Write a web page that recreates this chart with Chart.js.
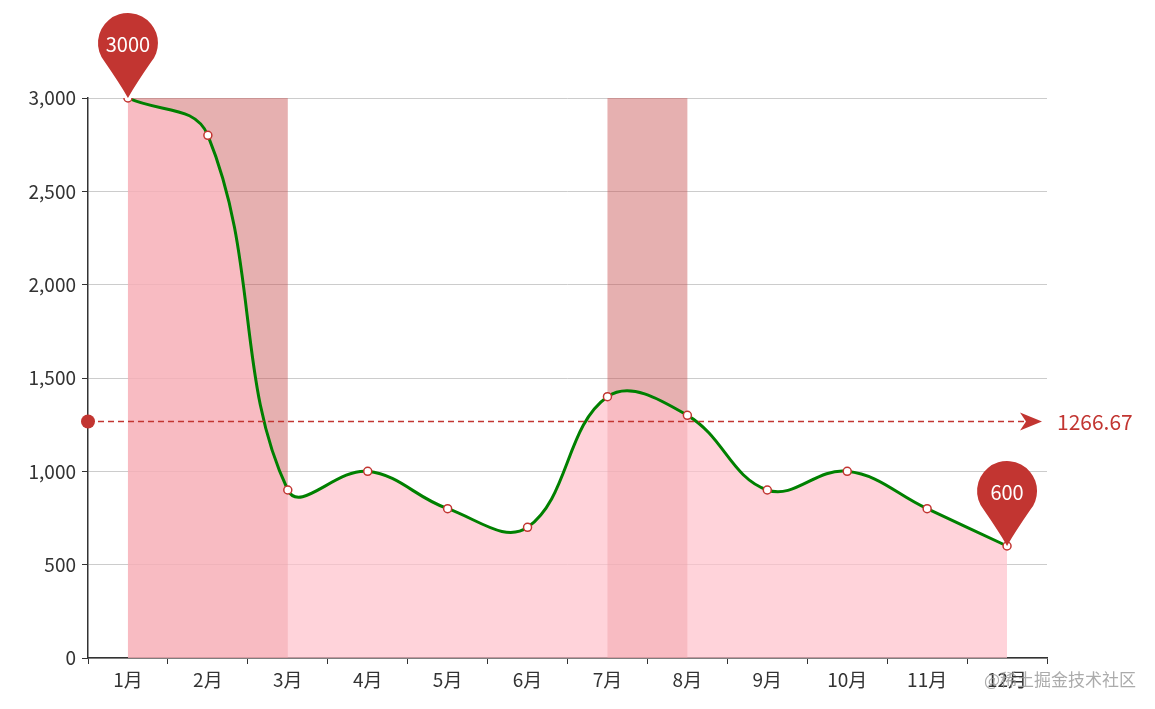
<!DOCTYPE html>
<html><head><meta charset="utf-8">
<script src="https://cdn.jsdelivr.net/npm/chart.js@4"></script>
<style>html,body{margin:0;padding:0;background:#fff}#wrap{width:1155px;height:709px;position:relative}</style>
</head><body><div id="wrap"><canvas id="c" width="1155" height="709"></canvas></div>
<script>
const categories = ['1月','2月','3月','4月','5月','6月','7月','8月','9月','10月','11月','12月'];
const values = [3000, 2800, 900, 1000, 800, 700, 1400, 1300, 900, 1000, 800, 600];
const markAreas = [['1月','3月'], ['7月','8月']];
const yTicks = [0, 500, 1000, 1500, 2000, 2500, 3000];
const FONT = '"Noto Sans CJK SC", "Noto Sans", sans-serif';
const RED = '#c23531';

function pin(ctx, x, tipY, text) {
  const r = 30, cy = tipY - 55;
  ctx.save();
  ctx.fillStyle = RED;
  ctx.beginPath();
  ctx.arc(x, cy, r, Math.PI * 0.78, Math.PI * 0.22, false);
  ctx.quadraticCurveTo(x + 8, tipY - 14, x, tipY);
  ctx.quadraticCurveTo(x - 8, tipY - 14, x - r * Math.cos(Math.PI * 0.22), cy + r * Math.sin(Math.PI * 0.22));
  ctx.closePath();
  ctx.fill();
  ctx.fillStyle = '#fff';
  ctx.font = '20px ' + FONT;
  ctx.textAlign = 'center'; ctx.textBaseline = 'middle';
  ctx.fillText(text, x, cy + 1);
  ctx.restore();
}

const marks = {
  id: 'marks',
  beforeDatasetsDraw(chart) {
    const {ctx, scales: {x, y}} = chart;
    ctx.save();
    ctx.fillStyle = 'rgba(200,80,80,0.45)';
    markAreas.forEach(([a, b]) => {
      const x1 = x.getPixelForValue(categories.indexOf(a));
      const x2 = x.getPixelForValue(categories.indexOf(b));
      ctx.fillRect(x1, y.getPixelForValue(3000), x2 - x1, y.getPixelForValue(0) - y.getPixelForValue(3000));
    });
    ctx.restore();
  },
  afterDatasetsDraw(chart) {
    const {ctx, scales: {x, y}, chartArea} = chart;
    const avg = values.reduce((s, v) => s + v, 0) / values.length;
    const ay = y.getPixelForValue(avg);
    ctx.save();
    ctx.strokeStyle = RED; ctx.fillStyle = RED; ctx.lineWidth = 1.5;
    ctx.setLineDash([6, 4]);
    ctx.beginPath(); ctx.moveTo(chartArea.left, ay); ctx.lineTo(chartArea.right - 10, ay); ctx.stroke();
    ctx.setLineDash([]);
    ctx.beginPath(); ctx.arc(chartArea.left, ay, 7, 0, Math.PI * 2); ctx.fill();
    const ex = chartArea.right - 5;
    ctx.beginPath(); ctx.moveTo(ex, ay); ctx.lineTo(ex - 22, ay - 9); ctx.lineTo(ex - 16, ay); ctx.lineTo(ex - 22, ay + 9); ctx.closePath(); ctx.fill();
    ctx.font = '21px ' + FONT; ctx.textBaseline = 'middle'; ctx.textAlign = 'left';
    ctx.fillText(avg.toFixed(2), chartArea.right + 10, ay);
    const maxI = values.indexOf(Math.max(...values)), minI = values.indexOf(Math.min(...values));
    pin(ctx, x.getPixelForValue(maxI), y.getPixelForValue(values[maxI]), String(values[maxI]));
    pin(ctx, x.getPixelForValue(minI), y.getPixelForValue(values[minI]), String(values[minI]));
    ctx.fillStyle = 'rgba(150,150,150,0.8)'; ctx.font = '17px ' + FONT; ctx.textAlign = 'right';
    ctx.fillText('@稀土掘金技术社区', 1136, 680);
    ctx.restore();
  }
};

new Chart(document.getElementById('c'), {
  type: 'line',
  data: { labels: categories, datasets: [{
    data: values, borderColor: 'green', borderWidth: 3, tension: 0.4,
    fill: 'origin', backgroundColor: 'rgba(255,192,203,0.7)',
    pointRadius: 4, pointBackgroundColor: '#fff', pointBorderColor: RED, pointBorderWidth: 1.5
  }]},
  options: {
    responsive: false, animation: false, devicePixelRatio: 1,
    layout: { padding: { left: 0, top: 98, right: 108, bottom: 0 } },
    plugins: { legend: { display: false }, tooltip: { enabled: false } },
    scales: {
      x: { offset: true,
        afterFit(s) { s.height = 51; },
        grid: { offset: true, drawOnChartArea: false, tickLength: 6, color: '#333' },
        border: { color: '#333', width: 1.5 },
        ticks: { color: '#333', font: { size: 19, family: FONT }, padding: 4 } },
      y: { min: 0, max: 3000,
        afterFit(s) { s.width = 88; },
        afterBuildTicks(s) { s.ticks = yTicks.map(v => ({ value: v })); },
        grid: { color: '#ccc', tickLength: 6, tickColor: '#333' },
        border: { color: '#333', width: 1.5 },
        ticks: { color: '#333', font: { size: 19, family: FONT }, padding: 6,
          callback: v => v.toLocaleString('en-US') } }
    }
  },
  plugins: [marks]
});
</script>
</body></html>
